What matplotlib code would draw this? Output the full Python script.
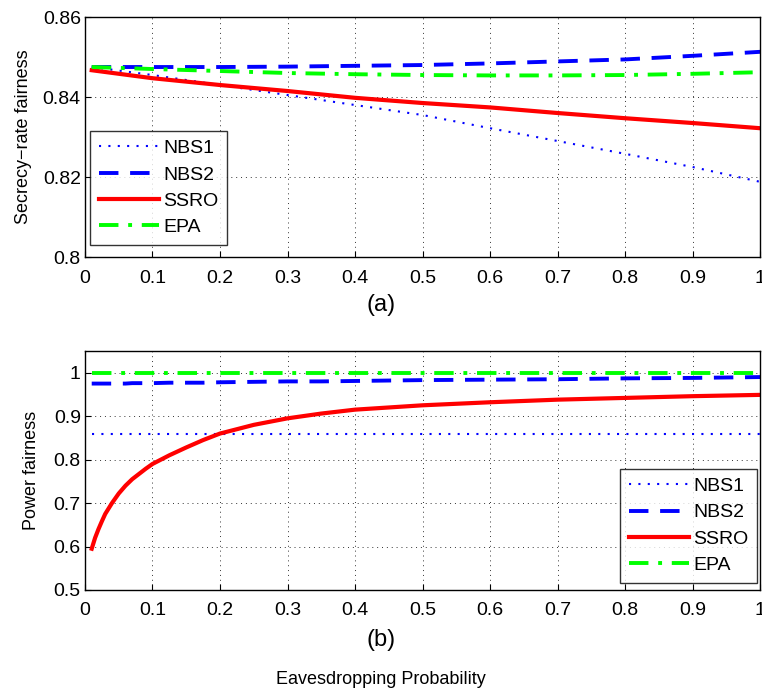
import numpy as np
import matplotlib; matplotlib.use("Agg"); import matplotlib.pyplot as plt

plt.rcParams['font.family'] = ['Liberation Sans', 'DejaVu Sans']

# ---- data ----
x_a = [0.01, 0.1, 0.2, 0.3, 0.4, 0.5, 0.6, 0.7, 0.8, 0.9, 1.0]
nbs1_a = [0.8475, 0.8455, 0.8430, 0.8405, 0.8380, 0.8355, 0.8322, 0.8290, 0.8258, 0.8225, 0.8188]
nbs2_a = [0.8475, 0.8475, 0.8475, 0.8476, 0.8478, 0.8480, 0.8484, 0.8489, 0.8494, 0.8503, 0.8513]
ssro_a = [0.8467, 0.8447, 0.8430, 0.8415, 0.8398, 0.8385, 0.8374, 0.8360, 0.8347, 0.8335, 0.8322]
epa_a = [0.8475, 0.8470, 0.8465, 0.8460, 0.8457, 0.8455, 0.8454, 0.8454, 0.8455, 0.8458, 0.8462]

x_b = [0.01, 0.015, 0.02, 0.025, 0.03, 0.04, 0.05, 0.06, 0.07, 0.08, 0.09, 0.1, 0.125, 0.15, 0.175, 0.2,
       0.25, 0.3, 0.35, 0.4, 0.45, 0.5, 0.6, 0.7, 0.8, 0.9, 1.0]
nbs1_b = [0.858] * len(x_b)
nbs2_b = [0.975, 0.975, 0.975, 0.975, 0.975, 0.975, 0.975, 0.975, 0.976, 0.976, 0.976, 0.976, 0.977, 0.977, 0.977,
          0.978, 0.979, 0.980, 0.980, 0.981, 0.982, 0.983, 0.984, 0.985, 0.987, 0.988, 0.990]
ssro_b = [0.595, 0.620, 0.640, 0.658, 0.675, 0.700, 0.722, 0.740, 0.755, 0.767, 0.779, 0.790, 0.810, 0.828, 0.845,
          0.860, 0.880, 0.895, 0.906, 0.915, 0.920, 0.925, 0.932, 0.938, 0.942, 0.946, 0.949]
epa_b = [1.0] * len(x_b)

labels = ["NBS1", "NBS2", "SSRO", "EPA"]
xticks = [0, 0.1, 0.2, 0.3, 0.4, 0.5, 0.6, 0.7, 0.8, 0.9, 1]
xticklabels = ["0", "0.1", "0.2", "0.3", "0.4", "0.5", "0.6", "0.7", "0.8", "0.9", "1"]

def draw(ax, x, ys):
    n1, n2, s, e = ys
    ax.plot(x, n1, color=(0, 0, 1), lw=1.5, ls=(0, (1, 3.5)), label=labels[0])
    ax.plot(x, n2, color=(0, 0, 1), lw=2.8, ls=(0, (5, 3)), label=labels[1])
    ax.plot(x, s, color=(1, 0, 0), lw=3.0, ls="-", label=labels[2])
    ax.plot(x, e, color=(0, 1, 0), lw=2.8, ls=(0, (5, 2.5, 1, 2.5)), label=labels[3])
    ax.set_xlim(0, 1)
    ax.set_xticks(xticks); ax.set_xticklabels(xticklabels)
    ax.grid(True, color="k", ls=(0, (1, 4)), lw=0.7, alpha=0.8)
    ax.tick_params(labelsize=14, direction="in", length=4)
    ax.tick_params(axis="x", pad=9)
    ax.tick_params(axis="y", pad=3)
    for sp in ax.spines.values(): sp.set_linewidth(1.0)

def legend(ax, loc, anchor):
    lg = ax.legend(loc=loc, bbox_to_anchor=anchor, fontsize=14, frameon=True, fancybox=False,
                   edgecolor="k", handlelength=3.1, borderpad=0.45, labelspacing=0.45, handletextpad=0.2,
                   borderaxespad=0)
    lg.get_frame().set_linewidth(1.0)

fig = plt.figure(figsize=(7.62, 6.92), dpi=100)
ax1 = fig.add_axes([0.1115, 0.6286, 0.886, 0.3468])
ax2 = fig.add_axes([0.1115, 0.1474, 0.886, 0.3454])

draw(ax1, x_a, [nbs1_a, nbs2_a, ssro_a, epa_a])
ax1.set_ylim(0.8, 0.86)
ax1.set_yticks([0.8, 0.82, 0.84, 0.86]); ax1.set_yticklabels(["0.8", "0.82", "0.84", "0.86"])
ax1.set_ylabel("Secrecy\u2212rate fairness", fontsize=13, labelpad=8)
legend(ax1, "lower left", (0.0075, 0.05))
fig.text(0.5, 1 - 305 / 692, "(a)", ha="center", va="center", fontsize=17)

draw(ax2, x_b, [nbs1_b, nbs2_b, ssro_b, epa_b])
ax2.set_ylim(0.5, 1.05)
ax2.set_yticks([0.5, 0.6, 0.7, 0.8, 0.9, 1.0]); ax2.set_yticklabels(["0.5", "0.6", "0.7", "0.8", "0.9", "1"])
ax2.set_ylabel("Power fairness", fontsize=13, labelpad=10)
legend(ax2, "lower right", (0.9956, 0.03))
fig.text(0.5, 1 - 640 / 692, "(b)", ha="center", va="center", fontsize=17)
fig.text(0.5, 1 - 679 / 692, "Eavesdropping Probability", ha="center", va="center", fontsize=13)

fig.savefig("out.png", dpi=100)
